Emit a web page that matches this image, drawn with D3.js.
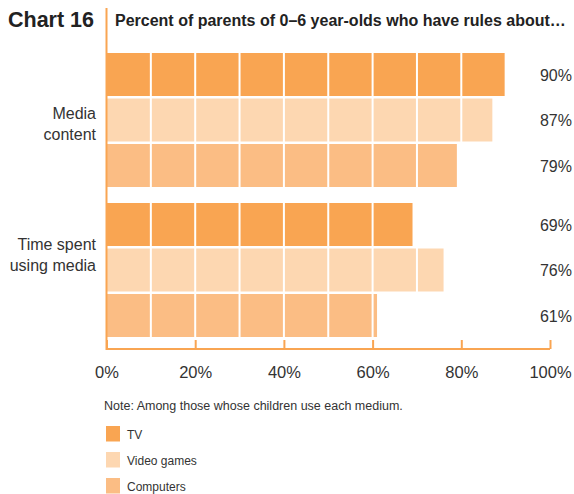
<!DOCTYPE html>
<html><head><meta charset="utf-8">
<script src="https://cdn.jsdelivr.net/npm/d3@7"></script>
<style>body{margin:0;background:#fff;} text{font-family:"Liberation Sans",Arial,sans-serif;}</style>
</head><body><svg id="c" width="574" height="494"></svg>
<script>
const categories = [["Media","content"],["Time spent","using media"]];
const series = ["TV","Video games","Computers"];
const tvValues = [90, 69];
const videoGameValues = [87, 76];
const computerValues = [79, 61];
const valueLabels = [["90%","87%","79%"],["69%","76%","61%"]];
const tickValues = [0,20,40,60,80,100];
const colors = ["#F9A552","#FDD7B1","#FBBD84"];

const svg = d3.select("#c");
const x = d3.scaleLinear().domain([0,100]).range([106.5,550]);
const groupY = d3.scaleBand().domain([0,1]).range([53,337]).paddingInner(16/150);
const rowY = d3.scaleBand().domain([0,1,2]).range([0,groupY.bandwidth()]).paddingInner(2.5/45.5);
const seriesVals = [tvValues, videoGameValues, computerValues];
const labelFirstOffset = [-1, -20];

categories.forEach((cat,gi)=>{
  seriesVals.forEach((vals,si)=>{
    const y0 = groupY(gi)+rowY(si);
    svg.append("rect").attr("x",x(0)).attr("y",y0).attr("width",x(vals[gi])-x(0))
      .attr("height",rowY.bandwidth()).attr("fill",colors[si]);
    svg.append("text").attr("x",572).attr("y",y0+rowY.bandwidth()/2+6).attr("text-anchor","end")
      .attr("font-size",16).attr("fill","#333").text(valueLabels[gi][si]);
  });
  const cy = groupY(gi)+groupY.bandwidth()/2;
  const t = svg.append("text").attr("text-anchor","end").attr("font-size",16).attr("fill","#333");
  cat.forEach((l,i)=>t.append("tspan").attr("x",96).attr("y",cy+labelFirstOffset[gi]+i*21).text(l));
});
// white gridlines every 10%
svg.selectAll("line.grid").data(d3.range(10,100,10)).join("line")
  .attr("x1",d=>x(d)).attr("x2",d=>x(d)).attr("y1",45).attr("y2",345)
  .attr("stroke","#fff").attr("stroke-width",2);

// axis
const ax = svg.append("g").attr("transform","translate(0,349)")
  .call(d3.axisBottom(x).tickValues(tickValues).tickFormat(d=>d+"%").tickSize(-9).tickPadding(17));
ax.select(".domain").attr("stroke","#F9A552").attr("stroke-width",2).attr("d",`M${x(0)},0H${x(100)}`);
ax.selectAll(".tick line").attr("stroke","#F9A552").attr("stroke-width",2);
ax.selectAll(".tick text").attr("font-size",16.5).attr("fill","#333").attr("font-family","Liberation Sans, Arial, sans-serif");
svg.append("line").attr("x1",x(0)).attr("x2",x(0)).attr("y1",8).attr("y2",350)
  .attr("stroke","#F9A552").attr("stroke-width",2);

// titles
svg.append("text").attr("x",8).attr("y",27).attr("font-size",21.5).attr("font-weight","bold").attr("fill","#222").text("Chart 16");
svg.append("text").attr("x",115).attr("y",26).attr("font-size",16).attr("font-weight","bold").attr("fill","#222")
  .text("Percent of parents of 0–6 year-olds who have rules about…");

svg.append("text").attr("x",104).attr("y",410).attr("font-size",12.5).attr("fill","#333").text("Note: Among those whose children use each medium.");
series.forEach((s,i)=>{
  svg.append("rect").attr("x",106).attr("y",426+i*26).attr("width",14).attr("height",15.5).attr("fill",colors[i]);
  svg.append("text").attr("x",127).attr("y",438.5+i*26).attr("font-size",12).attr("fill","#333").text(s);
});
</script></body></html>
